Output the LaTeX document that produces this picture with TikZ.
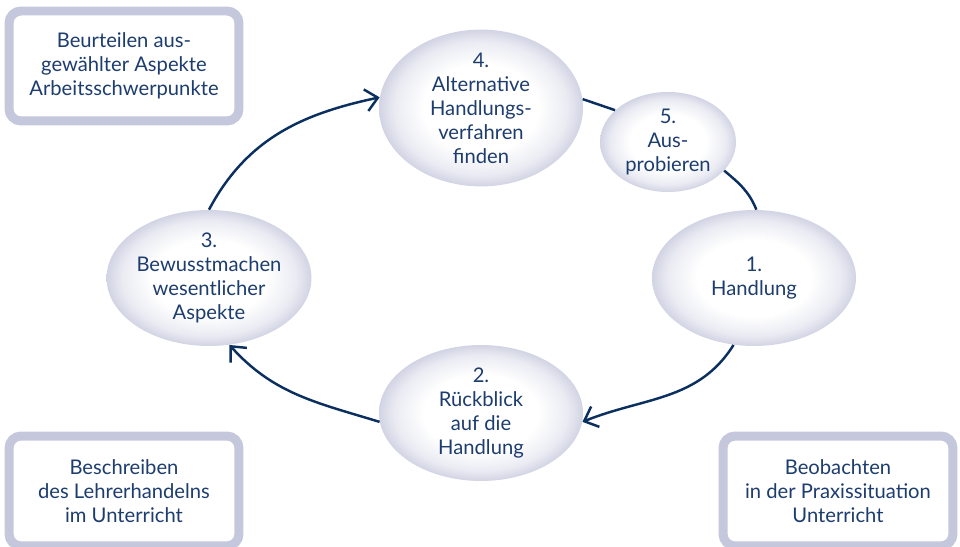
\documentclass[tikz,border=0pt]{standalone}
\usepackage{fontspec}
\setmainfont{Lato}
\usepackage{xcolor}
\usetikzlibrary{arrows.meta,shapes.geometric}
\definecolor{navy}{HTML}{0B2F5F}
\definecolor{txtblue}{HTML}{1D3D6F}
\definecolor{rimgray}{HTML}{C5C8DC}
\definecolor{ellrim}{HTML}{C6C9DD}
\pgfdeclareradialshading{stageshade}{\pgfpoint{0bp}{0bp}}{%
  color(0bp)=(white); color(14bp)=(white); color(21bp)=(ellrim!35!white);
  color(25bp)=(ellrim!80!white); color(50bp)=(ellrim)}
\begin{document}
\begin{tikzpicture}[x=0.02cm,y=0.02cm,
    every node/.style={text=txtblue,font=\fontsize{11.5}{13.7}\selectfont,align=center},
    stage/.style={ellipse,inner sep=0pt,minimum width=4.08cm,minimum height=2.72cm,
        shading=stageshade},
    smallstage/.style={stage,minimum width=2.72cm,minimum height=2cm},
    infobox/.style={draw=rimgray,line width=0.18cm,rounded corners=0.24cm,fill=white,
        minimum width=4.6cm,minimum height=2.2cm},
    cycle/.style={draw=navy,line width=1.4pt},
    cyclearrow/.style={cycle,-{Straight Barb[length=2.4mm,width=4.4mm,line width=1.4pt]}}]
\useasboundingbox (0,0) rectangle (960,547);
% stages of the cycle
\node[stage] (handlung) at (754,269) {1.\\Handlung};
\node[stage] (rueckblick) at (481,134) {2.\\R\"uckblick\\auf die\\Handlung};
\node[stage] (bewusst) at (209,269) {3.\\Bewusstmachen\\wesentlicher\\Aspekte};
\node[stage] (alternative) at (481,439) {4.\\Alternative\\Handlungs-\\verfahren\\finden};
\node[smallstage] (probieren) at (668,405) {5.\\Aus-\\probieren};
% side boxes
\node[infobox] (beurteilen) at (124,481) {Beurteilen aus-\\gew\"ahlter Aspekte\\Arbeitsschwerpunkte};
\node[infobox] (beschreiben) at (124,56) {Beschreiben\\des Lehrerhandelns\\im Unterricht};
\node[infobox] (beobachten) at (838,56) {Beobachten\\in der Praxissituation\\Unterricht};
% connectors
\draw[cyclearrow] (bewusst.north) to[out=62,in=192] (alternative.174);
\draw[cycle] (alternative.5) -- (probieren.149);
\draw[cycle] (probieren.-27) to[out=-40,in=112] (handlung.88);
\draw[cyclearrow] (handlung.253) to[out=238,in=22] (rueckblick.355);
\draw[cyclearrow] (rueckblick.185) to[out=163,in=-48] (bewusst.287);
\end{tikzpicture}
\end{document}
